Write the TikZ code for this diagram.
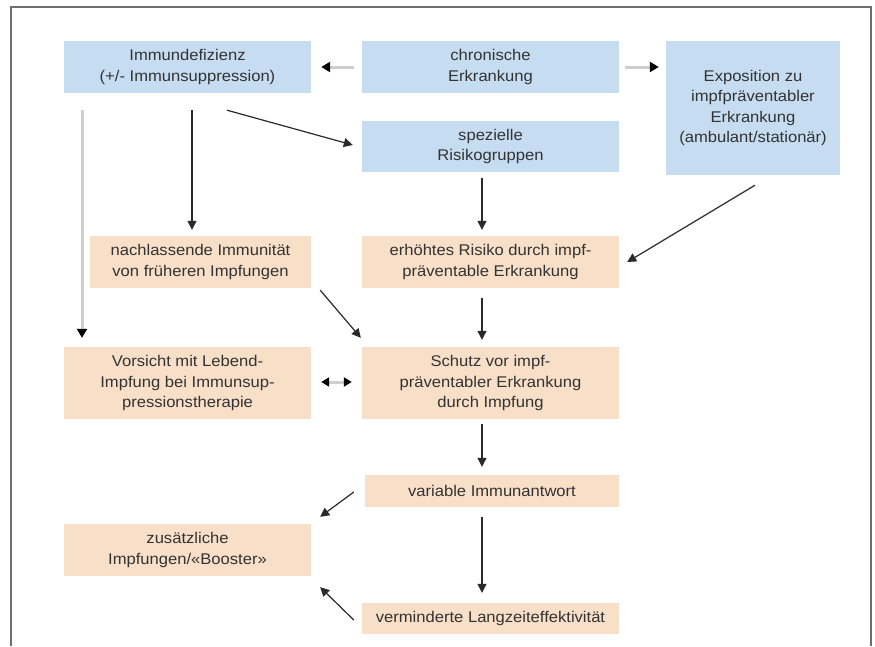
\documentclass[tikz,border=0pt]{standalone}
\usepackage{fontspec}
\setmainfont{Liberation Sans}[FakeStretch=1.07]
\usetikzlibrary{arrows.meta}
\definecolor{boxblue}{HTML}{C6DCF1}
\definecolor{boxbeige}{HTML}{F7DFC8}
\definecolor{txt}{HTML}{333333}
\definecolor{ln}{HTML}{2A2A2A}
\definecolor{pale}{HTML}{CFCFCF}
\definecolor{frame}{HTML}{6E6E6E}
\tikzset{
  boxbase/.style={rectangle, inner sep=0pt, align=center, text=txt,
    font=\fontsize{15.5}{20.5}\selectfont},
  bluebox/.style={boxbase, fill=boxblue},
  beigebox/.style={boxbase, fill=boxbeige},
  arr/.style={draw=ln, line width=1.2pt, -{Triangle[length=9pt,width=9pt]}},
  grayarr/.style={draw=pale, line width=3pt, -{Triangle[length=9pt,width=10pt,color=black]}},
  grayarrb/.style={draw=pale, line width=3pt, {Triangle[length=8pt,width=9pt,color=black]}-{Triangle[length=8pt,width=9pt,color=black]}}
}
\begin{document}
\begin{tikzpicture}[x=1pt,y=-1pt]
\useasboundingbox (0,0) rectangle (875,646);
\fill[white] (0,0) rectangle (875,646);
\draw[frame, line width=2pt] (11,646) -- (11,7) -- (871,7) -- (871,646);

\node[bluebox, minimum width=247pt, minimum height=52pt] (imm) at (187.5,67) {Immundefizienz\\(+/- Immunsuppression)};
\node[bluebox, minimum width=257pt, minimum height=52pt] (chr) at (490.5,67) {chronische\\Erkrankung};
\node[bluebox, minimum width=174pt, minimum height=134pt] (exp) at (753,108) {Exposition zu\\impfpräventabler\\Erkrankung\\(ambulant/stationär)};
\node[bluebox, minimum width=257pt, minimum height=51pt] (spez) at (490.5,146.5) {spezielle\\Risikogruppen};
\node[beigebox, minimum width=221pt, minimum height=52pt] (nach) at (200.5,262) {nachlassende Immunität\\von früheren Impfungen};
\node[beigebox, minimum width=257pt, minimum height=52pt] (erh) at (490.5,262) {erhöhtes Risiko durch impf-\\präventable Erkrankung};
\node[beigebox, minimum width=247pt, minimum height=72pt] (vor) at (187.5,383) {Vorsicht mit Lebend-\\Impfung bei Immunsup-\\pressionstherapie};
\node[beigebox, minimum width=257pt, minimum height=72pt] (sch) at (490.5,383) {Schutz vor impf-\\präventabler Erkrankung\\durch Impfung};
\node[beigebox, minimum width=254pt, minimum height=32pt] (var) at (492,491) {variable Immunantwort};
\node[beigebox, minimum width=247pt, minimum height=52pt] (zus) at (187.5,550) {zusätzliche\\Impfungen/«Booster»};
\node[beigebox, minimum width=257pt, minimum height=31pt] (ver) at (490.5,618.5) {verminderte Langzeiteffektivität};

% connectors
\draw[grayarr] ([xshift=-8pt]chr.west) -- ([xshift=10pt]imm.east);
\draw[grayarr] ([xshift=6pt]chr.east) -- ([xshift=-7pt]chr.east -| exp.west);
\draw[arr] ([xshift=39.5pt,yshift=-17pt]imm.south) -- ([xshift=-9pt,yshift=1.5pt]spez.west);
\draw[arr] ([xshift=4.5pt,yshift=-17pt]imm.south) -- ([xshift=-8.5pt,yshift=6pt]nach.north);
\draw[grayarr] ([xshift=-105.5pt,yshift=-17pt]imm.south) -- ([xshift=-105.5pt,yshift=9pt]vor.north);
\draw[arr] ([xshift=-8.5pt,yshift=-6pt]spez.south) -- ([xshift=-8.5pt,yshift=6pt]erh.north);
\draw[arr] ([xshift=2pt,yshift=-10pt]exp.south) -- ([xshift=8pt]erh.east);
\draw[arr] ([xshift=9pt,yshift=-2pt]nach.south east) -- ([xshift=-1pt,yshift=9pt]sch.north west);
\draw[arr] ([xshift=-8.5pt,yshift=-10pt]erh.south) -- ([xshift=-8.5pt,yshift=7pt]sch.north);
\draw[grayarrb] ([xshift=10pt,yshift=1pt]vor.east) -- ([xshift=-10pt,yshift=1pt]sch.west);
\draw[arr] ([xshift=-8.5pt,yshift=-5pt]sch.south) -- ([xshift=-10pt,yshift=8pt]var.north);
\draw[arr] ([xshift=-11pt,yshift=-1pt]var.west) -- ([xshift=9pt,yshift=7pt]zus.north east);
\draw[arr] ([xshift=-10pt,yshift=-10pt]var.south) -- ([xshift=-8.5pt,yshift=10pt]ver.north);
\draw[arr] ([xshift=-8pt,yshift=-1.5pt]ver.west) -- ([xshift=9pt,yshift=-11pt]zus.south east);
\end{tikzpicture}
\end{document}
